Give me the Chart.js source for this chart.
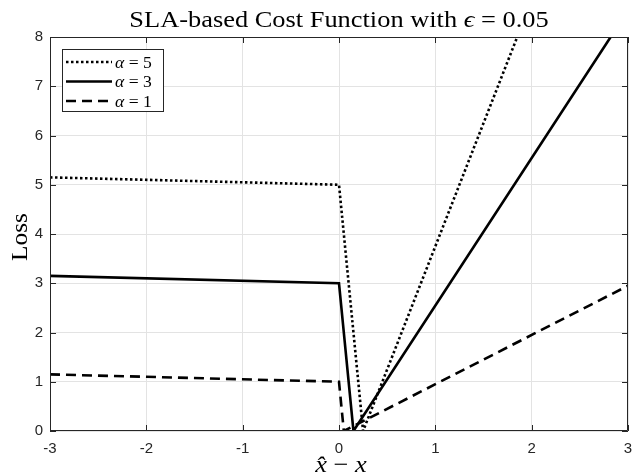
<!DOCTYPE html>
<html><head><meta charset="utf-8">
<script src="https://cdn.jsdelivr.net/npm/chart.js@4"></script>
<style>html,body{margin:0;padding:0;background:#fff}</style>
</head><body>
<canvas id="c" width="632" height="476"></canvas>
<script>
// ---- data ----
const xTicks = [-3, -2, -1, 0, 1, 2, 3];
const yTicks = [0, 1, 2, 3, 4, 5, 6, 7, 8];
const seriesLabels = ['5', '3', '1'];          // alpha values
const xAlpha5 = [-3, 0, 0.25, 1.85];
const yAlpha5 = [5.15, 5, 0, 8];
const xAlpha3 = [-3, 0, 0.15, 2.82];
const yAlpha3 = [3.15, 3, 0, 8];
const xAlpha1 = [-3, 0, 0.05, 3];
const yAlpha1 = [1.15, 1, 0, 2.95];

const SERIF = "'Liberation Serif', 'DejaVu Serif', serif";
const STRETCH = 1.1;
const toPts = (xs, ys) => xs.map((x, i) => ({ x: x, y: ys[i] }));

function mixedText(ctx, parts, cx, y, align, sx) {
  sx = sx || 1;
  let total = 0;
  parts.forEach(p => { ctx.font = p.font; p.w = ctx.measureText(p.t).width; total += p.w; });
  total *= sx;
  let x0 = align === 'center' ? cx - total / 2 : cx;
  ctx.save();
  ctx.translate(x0, y);
  ctx.scale(sx, 1);
  ctx.textAlign = 'left';
  let x = 0;
  parts.forEach(p => { ctx.font = p.font; ctx.fillText(p.t, x, 0); x += p.w; });
  ctx.restore();
}

const framePlugin = {
  id: 'frame',
  afterDatasetsDraw(chart) {
    const ctx = chart.ctx, a = chart.chartArea;
    const xs = chart.scales.x, ys = chart.scales.y;
    ctx.save();
    ctx.strokeStyle = '#262626';
    ctx.lineWidth = 1;
    ctx.beginPath();
    ctx.rect(a.left + 0.5, a.top + 0.5, a.right - a.left - 1, a.bottom - a.top - 1);
    const L = 6;
    xTicks.forEach(v => {
      const p = Math.round(xs.getPixelForValue(v)) + 0.5;
      ctx.moveTo(p, a.bottom); ctx.lineTo(p, a.bottom - L);
      ctx.moveTo(p, a.top); ctx.lineTo(p, a.top + L);
    });
    yTicks.forEach(v => {
      const p = Math.round(ys.getPixelForValue(v)) + 0.5;
      ctx.moveTo(a.left, p); ctx.lineTo(a.left + L, p);
      ctx.moveTo(a.right, p); ctx.lineTo(a.right - L, p);
    });
    ctx.stroke();

    // legend
    const lx = 62, ly = 49, lw = 101, lh = 62;
    ctx.fillStyle = '#fff';
    ctx.fillRect(lx, ly, lw, lh);
    ctx.strokeStyle = '#262626';
    ctx.strokeRect(lx + 0.5, ly + 0.5, lw, lh);
    chart.data.datasets.forEach((ds, i) => {
      const y = ly + 13 + i * 19.5;
      ctx.save();
      ctx.strokeStyle = ds.borderColor;
      ctx.lineWidth = ds.borderWidth;
      ctx.setLineDash(ds.borderDash || []);
      ctx.beginPath();
      ctx.moveTo(lx + 4, y); ctx.lineTo(lx + 50, y);
      ctx.stroke();
      ctx.restore();
      ctx.fillStyle = '#000';
      ctx.textBaseline = 'alphabetic';
      mixedText(ctx, [
        { t: 'α', font: 'italic 16px ' + SERIF },
        { t: ' = ' + seriesLabels[i], font: '16px ' + SERIF }
      ], lx + 53, y + 5.5, 'left', STRETCH);
    });

    // title
    const cx = (a.left + a.right) / 2;
    ctx.fillStyle = '#000';
    ctx.textBaseline = 'alphabetic';
    mixedText(ctx, [
      { t: 'SLA-based Cost Function with ', font: '24px ' + SERIF },
      { t: 'ϵ', font: 'italic 24px ' + SERIF },
      { t: ' = 0.05', font: '24px ' + SERIF }
    ], cx, 27, 'center', STRETCH);

    // x title
    mixedText(ctx, [
      { t: 'x\u0302', font: 'italic 24px ' + SERIF },
      { t: ' \u2212 ', font: '24px ' + SERIF },
      { t: 'x', font: 'italic 24px ' + SERIF }
    ], cx + 2, 472, 'center', STRETCH);

    // y title
    ctx.save();
    ctx.translate(27, (a.top + a.bottom) / 2 + 3);
    ctx.rotate(-Math.PI / 2);
    mixedText(ctx, [{ t: 'Loss', font: '23px ' + SERIF }], 0, 0, 'center', STRETCH);
    ctx.restore();
    ctx.restore();
  }
};

const tickFont = { family: "'Liberation Sans Narrow', 'Liberation Sans', sans-serif", size: 15 };

new Chart(document.getElementById('c'), {
  type: 'line',
  data: {
    datasets: [
      { label: 'α = 5', data: toPts(xAlpha5, yAlpha5), borderColor: '#000', borderWidth: 2.6, borderDash: [2.5, 2.5], borderCapStyle: 'butt' },
      { label: 'α = 3', data: toPts(xAlpha3, yAlpha3), borderColor: '#000', borderWidth: 2.6, borderDash: [] },
      { label: 'α = 1', data: toPts(xAlpha1, yAlpha1), borderColor: '#000', borderWidth: 2.6, borderDash: [10, 6] }
    ]
  },
  options: {
    responsive: false,
    animation: false,
    devicePixelRatio: 1,
    layout: { padding: { top: 37, right: 4, left: 0, bottom: 0 } },
    elements: { point: { radius: 0 }, line: { tension: 0, fill: false } },
    plugins: { legend: { display: false }, title: { display: false }, tooltip: { enabled: false } },
    scales: {
      x: {
        type: 'linear', min: -3, max: 3,
        afterFit: s => { s.height = 45; s.paddingLeft = 0; s.paddingRight = 0; },
        afterBuildTicks: s => { s.ticks = xTicks.map(v => ({ value: v })); },
        grid: { color: '#e3e3e3', drawTicks: false },
        border: { display: false },
        ticks: { color: '#262626', font: tickFont, padding: 9, maxRotation: 0, callback: v => String(v) }
      },
      y: {
        type: 'linear', min: 0, max: 8,
        afterFit: s => { s.width = 50; s.paddingTop = 0; s.paddingBottom = 0; },
        afterBuildTicks: s => { s.ticks = yTicks.map(v => ({ value: v })); },
        grid: { color: '#e3e3e3', drawTicks: false },
        border: { display: false },
        ticks: { color: '#262626', font: tickFont, padding: 7, callback: v => String(v) }
      }
    }
  },
  plugins: [framePlugin]
});
</script>
</body></html>
